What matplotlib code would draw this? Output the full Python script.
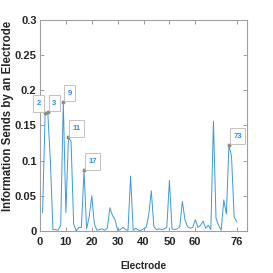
import matplotlib
matplotlib.use("Agg")
import matplotlib.pyplot as plt
from matplotlib.path import Path
import numpy as np

plt.rcParams['font.family'] = ['Liberation Sans', 'DejaVu Sans']

electrodes = list(range(1, 77))
info = [0.026, 0.168, 0.169, 0.100, 0.002, 0.002, 0.001, 0.008, 0.183, 0.026,
        0.133, 0.127, 0.010, 0.000, 0.005, 0.005, 0.086, 0.003, 0.020, 0.050,
        0.010, 0.001, 0.002, 0.003, 0.001, 0.004, 0.033, 0.022, 0.016, 0.001,
        0.002, 0.005, 0.002, 0.001, 0.078, 0.001, 0.004, 0.001, 0.001, 0.003,
        0.005, 0.022, 0.057, 0.006, 0.002, 0.003, 0.002, 0.003, 0.005, 0.072,
        0.003, 0.002, 0.003, 0.006, 0.042, 0.016, 0.006, 0.004, 0.005, 0.016,
        0.005, 0.008, 0.014, 0.004, 0.008, 0.002, 0.156, 0.018, 0.008, 0.001,
        0.044, 0.024, 0.122, 0.106, 0.020, 0.013]
tips = [2, 3, 9, 11, 17, 73]
tip_left = [2]

xticks = [0, 10, 20, 30, 40, 50, 60, 76]
yticks = [0, 0.05, 0.1, 0.15, 0.2, 0.25, 0.3]
yticklabels = ["0", "0.05", "0.1", "0.15", "0.2", "0.25", "0.3"]

fig = plt.figure(figsize=(2.73, 2.73), dpi=100)
ax = fig.add_axes([0.1465, 0.154, 0.7585, 0.773])

ax.plot(electrodes, info, color='#3d9ad8', lw=0.7)

PX = 0.45
PY = 0.62


def tall_box(x0, y0, width, height, mutation_size):
    px = PX * mutation_size
    py = PY * mutation_size
    a, b = x0 - px, y0 - py
    c, d = x0 + width + px, y0 + height + py
    return Path([(a, b), (c, b), (c, d), (a, d), (a, b)], closed=True)


fs_tip = 5.5
ms_px = fs_tip * 100 / 72.0
for e in tips:
    v = info[e - 1]
    ax.plot([e], [v], 'o', ms=1.8, color='#8c8c7a', mec='#8c8c7a')
    off_x = PX * ms_px * 72 / 100 + 0.6
    off_y = PY * ms_px * 72 / 100 + 0.6
    if e in tip_left:
        ha, dx = 'right', -off_x
    else:
        ha, dx = 'left', off_x
    ax.annotate(str(e), (e, v), xytext=(dx, off_y), textcoords='offset points',
                ha=ha, va='bottom', fontsize=fs_tip, fontweight='bold',
                color='#1e8fff',
                bbox=dict(boxstyle=tall_box, fc='white', ec='#b8b8b8', lw=0.6))

ax.set_xlim(0, 80)
ax.set_ylim(0, 0.3)
ax.set_xticks(xticks)
ax.set_xticklabels([str(t) for t in xticks])
ax.set_yticks(yticks)
ax.set_yticklabels(yticklabels)

for s in ax.spines.values():
    s.set_color('#a0a0a0')
    s.set_linewidth(0.8)
ax.tick_params(direction='in', length=3, width=0.6, color='#909090',
               top=True, right=True, labelsize=8, labelcolor='#262626', pad=2.5)
ax.tick_params(axis='x', pad=4.5)
for lab in ax.get_xticklabels() + ax.get_yticklabels():
    lab.set_fontweight('bold')

ax.set_xlabel('Electrode', fontsize=7.3, fontweight='bold', color='#262626', labelpad=10)
ax.set_ylabel('Information Sends by an Electrode', fontsize=8.3, fontweight='bold',
              color='#262626')
ax.yaxis.set_label_coords(-0.125, 0.543)

fig.savefig('out.png', dpi=100)
